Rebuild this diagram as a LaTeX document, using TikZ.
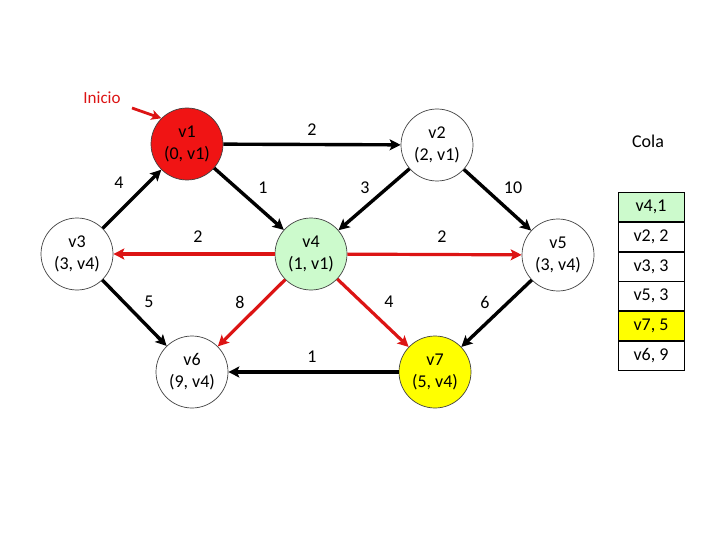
\documentclass[tikz,border=0pt]{standalone}
\usepackage{fontspec}
\setmainfont{Carlito}
\usetikzlibrary{arrows.meta}
\definecolor{nred}{RGB}{240,20,20}
\definecolor{ered}{RGB}{220,20,20}
\definecolor{ngreen}{RGB}{204,250,204}
\definecolor{nyellow}{RGB}{255,255,0}
\begin{document}
\begin{tikzpicture}[x=1pt,y=-1pt,
  vert/.style={circle,draw=black!75,line width=0.7pt,minimum size=72pt,inner sep=0pt,align=center,font=\fontsize{18}{22}\selectfont,fill=white},
  blk/.style={line width=3.4pt,-{Stealth[length=11pt,width=11pt,inset=2.5pt]}},
  rd/.style={line width=3.2pt,color=ered,-{Stealth[length=11pt,width=11pt,inset=2.5pt]}},
  lbl/.style={font=\fontsize{18}{22}\selectfont},
  cell/.style={draw,line width=0.7pt,minimum width=66pt,minimum height=29pt,inner sep=0pt,font=\fontsize{18}{22}\selectfont,fill=white}
]
\useasboundingbox (0,0) rectangle (720,540);
\node[vert,fill=nred] (v1) at (187,144) {v1\\(0, v1)};
\node[vert] (v2) at (437,145) {v2\\(2, v1)};
\node[vert] (v3) at (77,254) {v3\\(3, v4)};
\node[vert,fill=ngreen] (v4) at (311,254) {v4\\(1, v1)};
\node[vert] (v5) at (558,255) {v5\\(3, v4)};
\node[vert] (v6) at (192,372) {v6\\(9, v4)};
\node[vert,fill=nyellow] (v7) at (435,372) {v7\\(5, v4)};

\draw[blk] (v1) -- (v2);
\draw[blk] (v3) -- (v1);
\draw[blk] (v1) -- (v4);
\draw[blk] (v2) -- (v4);
\draw[blk] (v2) -- (v5);
\draw[rd] (v4) -- (v3);
\draw[rd] (v4) -- (v5);
\draw[blk] (v3) -- (v6);
\draw[rd] (v4) -- (v6);
\draw[rd] (v4) -- (v7);
\draw[blk] (v5) -- (v7);
\draw[blk] (v7) -- (v6);

\node[lbl] (l2) at (312,130) {2};
\node[lbl] (l4) at (119,183) {4};
\node[lbl] (l1) at (263,188) {1};
\node[lbl] (l3) at (365,188) {3};
\node[lbl] (l10) at (513,188) {10};
\node[lbl] (l2a) at (198,237) {2};
\node[lbl] (l2b) at (442,237) {2};
\node[lbl] (l5) at (149,302) {5};
\node[lbl] (l8) at (240,302) {8};
\node[lbl] (l4b) at (389,302) {4};
\node[lbl] (l6) at (485,302) {6};
\node[lbl] (l1b) at (312,357) {1};

\node[lbl,color=ered,font=\fontsize{17}{20}\selectfont] (inicio) at (102,98) {Inicio};
\coordinate (ia) at (132,108);
\draw[line width=2.8pt,color=ered,-{Stealth[length=10pt,width=10pt,inset=2.5pt]}] (ia) -- (v1.135);

\node[lbl] (cola) at (648,141) {Cola};
\node[cell,fill=ngreen] (c1) at (651,207) {v4,1};
\node[cell,anchor=north] (c2) at (c1.south) {v2, 2};
\node[cell,anchor=north] (c3) at (c2.south) {v3, 3};
\node[cell,anchor=north] (c4) at (c3.south) {v5, 3};
\node[cell,anchor=north,fill=nyellow] (c5) at (c4.south) {v7, 5};
\node[cell,anchor=north] (c6) at (c5.south) {v6, 9};
\end{tikzpicture}
\end{document}
